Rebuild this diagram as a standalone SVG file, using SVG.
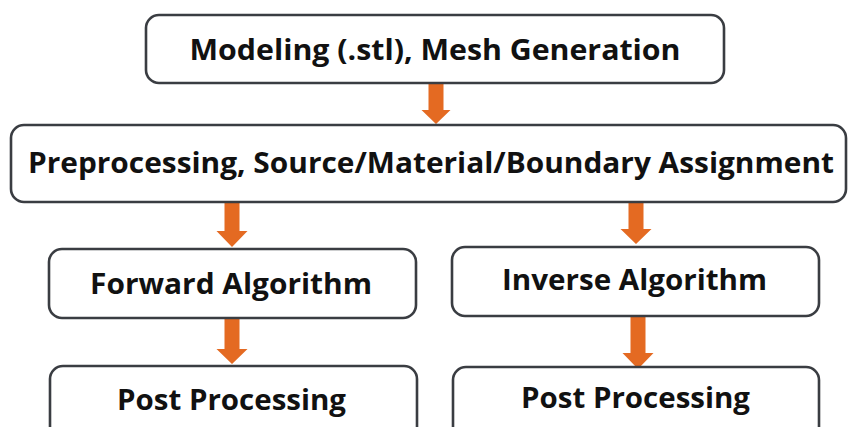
<svg xmlns="http://www.w3.org/2000/svg" width="848" height="427" viewBox="0 0 848 427">
  <style>
    .box { fill: #ffffff; stroke: #3a3d42; stroke-width: 2.6; }
    .label { font-family: "Open Sans", Lato, "Liberation Sans", sans-serif; font-weight: bold; font-size: 28.5px; fill: #111111; text-anchor: middle; }
    .arrow { fill: #e46a22; }
  </style>
  <rect x="0" y="0" width="848" height="427" fill="#ffffff"/>

  <g id="connectors">
    <path class="arrow" d="M428.5,83 h15 v27 h7 l-14.5,14 l-14.5,-14 h7 z"/>
    <path class="arrow" d="M224.5,202 h15 v29 h8 l-15.5,16 l-15.5,-16 h8 z"/>
    <path class="arrow" d="M628.5,202 h15 v27 h8 l-15.5,15 l-15.5,-15 h8 z"/>
    <path class="arrow" d="M224.5,318 h15 v31 h8 l-15.5,15 l-15.5,-15 h8 z"/>
    <path class="arrow" d="M630.5,316 h15 v37 h8 l-15.5,16 l-15.5,-16 h8 z"/>
  </g>

  <g id="modeling">
    <rect class="box" x="146" y="15" width="578" height="68" rx="13"/>
    <text class="label" x="435" y="60" textLength="491" lengthAdjust="spacingAndGlyphs">Modeling (.stl), Mesh Generation</text>
  </g>

  <g id="preprocessing">
    <rect class="box" x="11" y="125" width="835" height="77" rx="13"/>
    <text class="label" x="431" y="173" textLength="806" lengthAdjust="spacingAndGlyphs">Preprocessing, Source/Material/Boundary Assignment</text>
  </g>

  <g id="forward">
    <rect class="box" x="49" y="249" width="367" height="69" rx="13"/>
    <text class="label" x="231" y="294" textLength="282" lengthAdjust="spacingAndGlyphs">Forward Algorithm</text>
  </g>

  <g id="inverse">
    <rect class="box" x="452" y="247" width="367" height="69" rx="13"/>
    <text class="label" x="634.5" y="290" textLength="265" lengthAdjust="spacingAndGlyphs">Inverse Algorithm</text>
  </g>

  <g id="post-forward">
    <rect class="box" x="50" y="366" width="367" height="80" rx="13"/>
    <text class="label" x="231.5" y="410" textLength="229" lengthAdjust="spacingAndGlyphs">Post Processing</text>
  </g>

  <g id="post-inverse">
    <rect class="box" x="453" y="367" width="366" height="80" rx="13"/>
    <text class="label" x="635.5" y="408" textLength="229" lengthAdjust="spacingAndGlyphs">Post Processing</text>
  </g>
</svg>
